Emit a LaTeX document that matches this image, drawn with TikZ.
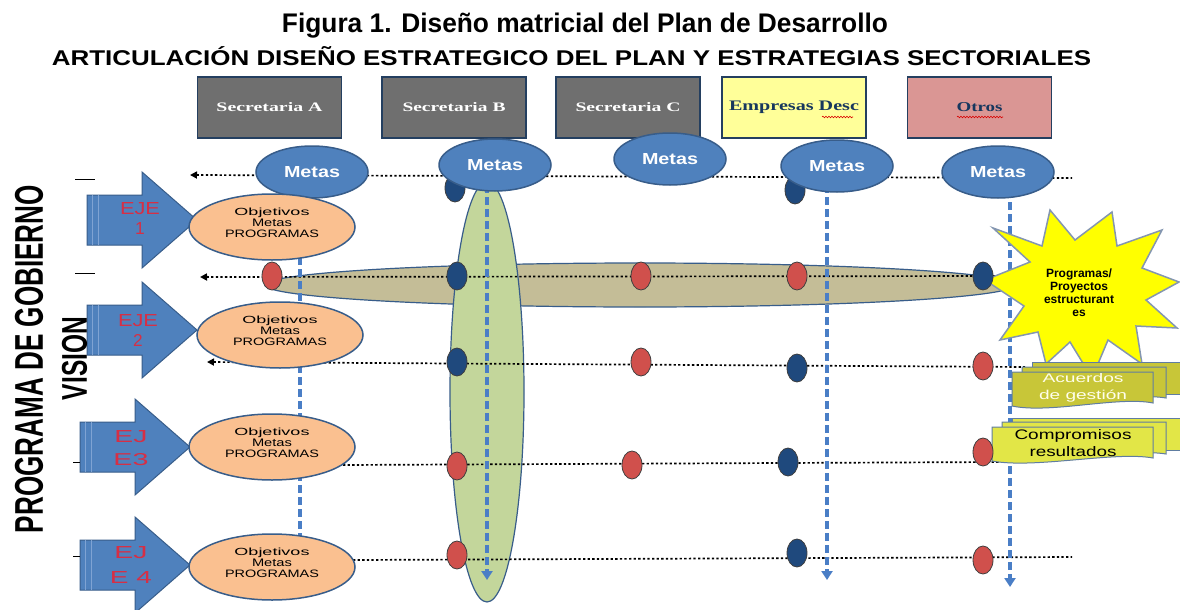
\documentclass[tikz,border=0pt]{standalone}
\usepackage{fontspec}
\setmainfont{Liberation Sans}
\newfontfamily\serifb{Liberation Serif}
\usetikzlibrary{shapes.geometric,arrows.meta,decorations.pathmorphing}
\definecolor{mblue}{HTML}{4F81BD}
\definecolor{bblue}{HTML}{385D8A}
\definecolor{orangeF}{HTML}{FAC090}
\definecolor{greenF}{HTML}{C3D69B}
\definecolor{tanF}{HTML}{C4BD97}
\definecolor{redD}{HTML}{D0504C}
\definecolor{navyD}{HTML}{1F497D}
\definecolor{grayB}{HTML}{6F6F6F}
\definecolor{yellowB}{HTML}{FFFF99}
\definecolor{pinkB}{HTML}{DA9694}
\definecolor{boxB}{HTML}{243F60}
\definecolor{starY}{HTML}{FFFF00}
\definecolor{starB}{HTML}{8496B0}
\definecolor{oliveF}{HTML}{C8C638}
\definecolor{brightY}{HTML}{E2E647}
\definecolor{ejeR}{HTML}{D62F45}
\definecolor{dashB}{HTML}{4A7EC6}
\definecolor{tealT}{HTML}{17375E}
\definecolor{stripeB}{HTML}{7FA3D3}
\tikzset{
  topbox/.style={rectangle, draw=boxB, line width=1.2pt, minimum width=144pt, minimum height=61pt, inner sep=0pt},
  metas/.style={ellipse, fill=mblue, draw=bblue, line width=1.5pt, minimum width=112pt, minimum height=52pt, inner sep=0pt, text=white},
  dotR/.style={ellipse, fill=redD, draw=black!75, line width=0.8pt, minimum width=20pt, minimum height=28pt, inner sep=0pt},
  dotB/.style={ellipse, fill=navyD, draw=black!75, line width=0.8pt, minimum width=20pt, minimum height=28pt, inner sep=0pt},
  rowline/.style={black, line width=1.7pt, dash pattern=on 2.3pt off 2.3pt},
  vdash/.style={dashB, line width=3.5pt, dash pattern=on 8pt off 4pt},
  obj/.style={ellipse, fill=orangeF, draw=bblue, line width=1.5pt, minimum width=166pt, minimum height=66pt, inner sep=0pt},
  objtxt/.style={align=center, inner sep=0pt, font=\fontsize{10}{11}\selectfont},
  ejetxt/.style={inner sep=0pt, text=ejeR},
  tick/.style={black, line width=0.8pt},
  wavy/.style={red!85!black, line width=0.6pt, decorate, decoration={snake, amplitude=0.8pt, segment length=3pt}},
  docfront/.style={draw=bblue!80, line width=1pt},
}
\newcommand\blockarrow[2]{%
  \begin{scope}[shift={(#1,#2)}]
    \filldraw[fill=mblue, draw=bblue, line width=1pt] (-110,-25) -- (-55,-25) -- (-55,-48) -- (0,0) -- (-55,48) -- (-55,25) -- (-110,25) -- cycle;
    \draw[stripeB, line width=1pt] (-105,-25) -- (-105,25);
    \draw[stripeB, line width=1pt] (-99,-25) -- (-99,25);
  \end{scope}}
\begin{document}
\begin{tikzpicture}[x=1pt,y=-1pt]
\useasboundingbox (0,0) rectangle (1180,610);
\fill[white] (0,0) rectangle (1180,610);

% titles
\node[anchor=base, inner sep=0pt] (title) at (585,33) {\resizebox{606pt}{19.5pt}{\bfseries Figura 1. Diseño matricial del Plan de Desarrollo}};
\node[anchor=base, inner sep=0pt] (subtitle) at (571.5,66) {\resizebox{1039pt}{19pt}{\bfseries ARTICULACIÓN DISEÑO ESTRATEGICO DEL PLAN Y ESTRATEGIAS SECTORIALES}};

% top boxes
\node[topbox, fill=grayB, text=white] (sa) at (269.5,107.5) {\resizebox{106pt}{9pt}{\serifb\bfseries Secretaria A}};
\node[topbox, fill=grayB, text=white] (sb) at (454,107.5) {\resizebox{103pt}{9pt}{\serifb\bfseries Secretaria B}};
\node[topbox, fill=grayB, text=white] (sc) at (628,107.5) {\resizebox{105pt}{9pt}{\serifb\bfseries Secretaria C}};
\node[topbox, fill=yellowB, text=tealT] (se) at (794,107.5) {\resizebox{130pt}{9.5pt}{\serifb\bfseries Empresas Desc}};
\node[topbox, fill=pinkB, text=tealT] (so) at (979.5,107.5) {\resizebox{46pt}{9pt}{\serifb\bfseries Otros}};
\draw[wavy] (822,117) -- (853,117);
\draw[wavy] (957,117) -- (1003,117);

% big shaded ellipses
\node[ellipse, fill=tanF, draw=bblue, line width=1.2pt, minimum width=750pt, minimum height=44pt, inner sep=0pt] (tan) at (640,285) {};
\node[ellipse, fill=greenF, draw=bblue, line width=1.2pt, minimum width=74pt, minimum height=420pt, inner sep=0pt] (green) at (487,392) {};

% dotted row lines
\coordinate (r0l) at (190,175); \coordinate (r0r) at (1072,178);
\coordinate (r1l) at (200,277); \coordinate (r1r) at (1005,276);
\coordinate (r2l) at (207,362); \coordinate (r2r) at (1025,367);
\coordinate (r3l) at (343,465); \coordinate (r3r) at (1000,462);
\coordinate (r4l) at (353,560); \coordinate (r4r) at (1072,557);
\draw[rowline, {Triangle[length=7pt,width=7pt]}-] (r0l) -- (r0r);
\draw[rowline, {Triangle[length=7pt,width=7pt]}-] (r1l) -- (r1r);
\draw[rowline, {Triangle[length=7pt,width=7pt]}-] (r2l) -- (r2r);
\draw[rowline] (r3l) -- (r3r);
\draw[rowline] (r4l) -- (r4r);

% vertical dashed arrows
\coordinate (v1t) at (300,185); \coordinate (v1b) at (300,545);
\coordinate (v2t) at (487,185); \coordinate (v2b) at (487,580);
\coordinate (v3t) at (827,185); \coordinate (v3b) at (827,580);
\coordinate (v4t) at (1010,190); \coordinate (v4b) at (1010,587);
\draw[vdash] (v1t) -- (v1b);
\draw[vdash, -{Triangle[length=9pt,width=11pt]}] (v2t) -- (v2b);
\draw[vdash, -{Triangle[length=9pt,width=11pt]}] (v3t) -- (v3b);
\draw[vdash, -{Triangle[length=9pt,width=11pt]}] (v4t) -- (v4b);

% row 0 dots (under Metas)
\node[dotB] (d01) at (455,188) {};
\node[dotB] (d02) at (795,190) {};

% Metas
\node[metas] (m1) at (312,172) {\resizebox{56pt}{11pt}{\bfseries Metas}};
\node[metas] (m2) at (495,165) {\resizebox{56pt}{11pt}{\bfseries Metas}};
\node[metas] (m3) at (670,159) {\resizebox{56pt}{11pt}{\bfseries Metas}};
\node[metas] (m4) at (837,166) {\resizebox{56pt}{11pt}{\bfseries Metas}};
\node[metas] (m5) at (998,172) {\resizebox{56pt}{11pt}{\bfseries Metas}};

% explosion star
\filldraw[fill=starY, draw=starB, line width=1.5pt]
  (985,280) -- (1030,262) -- (993,228) -- (1042,246) -- (1050,210) -- (1075,240)
  -- (1112,212) -- (1117,246) -- (1162,230) -- (1142,268) -- (1179,282) -- (1146,300)
  -- (1177,328) -- (1136,326) -- (1142,364) -- (1108,340) -- (1092,378) -- (1070,342)
  -- (1046,364) -- (1038,332) -- (1000,340) -- (1024,306) -- cycle;
\node[align=center, inner sep=0pt, font=\fontsize{12}{13}\selectfont\bfseries] (startxt) at (1079,293) {Programas/\\Proyectos\\estructurant\\es};

% Acuerdos de gestion stack
\filldraw[fill=oliveF, docfront] (1032,362) -- (1180,362) -- (1180,394) -- (1032,394) -- cycle;
\filldraw[fill=oliveF, docfront] (1022,367) -- (1166,367) -- (1166,398) .. controls (1130,392) and (1060,408) .. (1022,400) -- cycle;
\filldraw[fill=oliveF, docfront] (1012,372) -- (1153,372) -- (1153,403) .. controls (1118,396) and (1050,414) .. (1012,406) -- cycle;
\node[inner sep=0pt, text=white!92!yellow, align=center, font=\fontsize{14}{16}\selectfont] (acu) at (1083,388) {\resizebox{81pt}{9pt}{Acuerdos}\\[1pt]\resizebox{88pt}{9.5pt}{de gestión}};

% Compromisos resultados stack
\filldraw[fill=brightY, docfront] (1012,418) -- (1180,418) -- (1180,450) -- (1012,450) -- cycle;
\filldraw[fill=brightY, docfront] (1002,422) -- (1166,422) -- (1166,454) .. controls (1130,448) and (1050,464) .. (1002,456) -- cycle;
\filldraw[fill=brightY, docfront] (992,427) -- (1153,427) -- (1153,458) .. controls (1115,451) and (1035,469) .. (992,461) -- cycle;
\node[inner sep=0pt, text=black, align=center, font=\fontsize{14}{16}\selectfont] (com) at (1073,443) {\resizebox{117pt}{10pt}{Compromisos}\\[1pt]\resizebox{87pt}{10pt}{resultados}};

% dots
\node[dotR] (d11) at (272,276) {};
\node[dotB] (d12) at (457,276) {};
\node[dotR] (d13) at (641,276) {};
\node[dotR] (d14) at (797,276) {};
\node[dotB] (d15) at (983,276) {};
\node[dotB] (d21) at (457,362) {};
\node[dotR] (d22) at (641,362) {};
\node[dotB] (d23) at (797,368) {};
\node[dotR] (d24) at (983,366) {};
\node[dotR] (d31) at (457,466) {};
\node[dotR] (d32) at (632,465) {};
\node[dotB] (d33) at (788,462) {};
\node[dotR] (d34) at (983,452) {};
\node[dotR] (d41) at (457,555) {};
\node[dotB] (d42) at (797,553) {};
\node[dotR] (d43) at (983,560) {};

% block arrows
\blockarrow{197}{220}
\blockarrow{197}{330}
\blockarrow{190}{447}
\blockarrow{190}{565}
\node[ejetxt] (e1a) at (140,209) {\resizebox{40pt}{12pt}{EJE}};
\node[ejetxt] (e1b) at (140,228) {\resizebox{!}{12pt}{1}};
\node[ejetxt] (e2a) at (138,321) {\resizebox{40pt}{12pt}{EJE}};
\node[ejetxt] (e2b) at (138,340) {\resizebox{!}{12pt}{2}};
\node[ejetxt] (e3a) at (131,437) {\resizebox{33pt}{12pt}{EJ}};
\node[ejetxt] (e3b) at (131,460) {\resizebox{35pt}{12pt}{E3}};
\node[ejetxt] (e4a) at (131,553) {\resizebox{33pt}{12pt}{EJ}};
\node[ejetxt] (e4b) at (131,577) {\resizebox{42pt}{12pt}{E 4}};

% objective ellipses
\node[obj] (o1) at (272,227) {};
\node[obj] (o2) at (280,335) {};
\node[obj] (o3) at (272,447) {};
\node[obj] (o4) at (272,567) {};
\foreach \o/\n in {o1/1,o2/2,o3/3,o4/4}{
  \node[objtxt] (ot\n) at ([yshift=4pt]\o.center) {\resizebox{75pt}{7.5pt}{Objetivos}\\\resizebox{40pt}{7.5pt}{Metas}\\\resizebox{94pt}{7.5pt}{PROGRAMAS}};
}

% ticks
\draw[tick] (75,179) -- (95,179);
\draw[tick] (75,273) -- (95,273);
\draw[tick] (73,462) -- (80,462);
\draw[tick] (73,556) -- (80,556);

% vertical titles
\node[rotate=90, inner sep=0pt] (prog) at (29,359) {\resizebox{348pt}{28pt}{\bfseries PROGRAMA DE GOBIERNO}};
\node[rotate=90, inner sep=0pt] (vis) at (74.5,358.5) {\resizebox{83pt}{25pt}{\bfseries VISION}};
\end{tikzpicture}
\end{document}
